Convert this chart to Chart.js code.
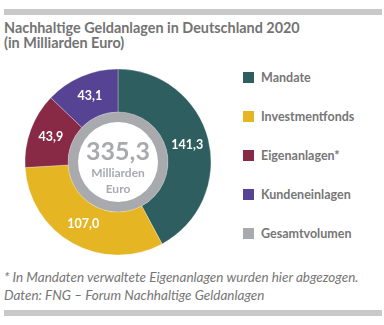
<!DOCTYPE html>
<html>
<head>
<meta charset="utf-8">
<script src="https://cdn.jsdelivr.net/npm/chart.js@4/dist/chart.umd.min.js"></script>
<style>
  body { margin: 0; background: #fff; font-family: Lato, sans-serif; color: #767676; }
  #wrap { position: relative; width: 384px; height: 325px; overflow: hidden; }
  .bar { position: absolute; left: 4px; width: 378px; height: 6px; background: #c9c9c9; }
  #title { position: absolute; left: 4px; top: 20px; font-size: 14.4px; font-weight: 700; line-height: 15px; color: #737373; }
  #chartBox { position: absolute; left: 18px; top: 62px; width: 200px; height: 200px; }
  #legend { position: absolute; left: 243px; top: 70px; }
  .item { position: absolute; left: 0; height: 14px; white-space: nowrap; font-size: 12.5px; font-weight: 700; color: #767676; }
  .item span.box { display: inline-block; width: 11px; height: 11px; vertical-align: -1px; margin-right: 7px; }
  #note { position: absolute; left: 4px; top: 268px; font-size: 13.5px; font-style: italic; line-height: 18px; color: #767676; }
</style>
</head>
<body>
<div id="wrap">
  <div class="bar" style="top:9px"></div>
  <div id="title">Nachhaltige Geldanlagen in Deutschland 2020<br>(in Milliarden Euro)</div>
  <div id="chartBox"><canvas id="myChart" width="200" height="200"></canvas></div>
  <div id="legend"></div>
  <div id="note">* In Mandaten verwaltete Eigenanlagen wurden hier abgezogen.<br>Daten: FNG – Forum Nachhaltige Geldanlagen</div>
  <div class="bar" style="top:310px"></div>
</div>
<script>
var categories = ['Mandate', 'Investmentfonds', 'Eigenanlagen*', 'Kundeneinlagen'];
var values = [141.3, 107.0, 43.9, 43.1];
var colors = ['#2f5e61', '#e6b524', '#882a45', '#574394'];
var totalLabel = 'Gesamtvolumen';
var totalValue = [335.3];
var totalColor = '#a9aaad';
var centerLines = ['Milliarden', 'Euro'];

function fmt(v) {
  return v.toFixed(1).replace('.', ',');
}

// legend built from the same arrays
var legendNames = categories.concat([totalLabel]);
var legendColors = colors.concat([totalColor]);
var legendEl = document.getElementById('legend');
legendNames.forEach(function(name, i) {
  var d = document.createElement('div');
  d.className = 'item';
  d.style.top = (i * 39) + 'px';
  d.innerHTML = '<span class="box" style="background:' + legendColors[i] + '"></span>' + name;
  legendEl.appendChild(d);
});

var labelPlugin = {
  id: 'labels',
  afterDatasetsDraw: function(chart) {
    var ctx = chart.ctx;
    var meta = chart.getDatasetMeta(0);
    ctx.save();
    ctx.fillStyle = '#fff';
    ctx.font = 'bold 12.5px Lato';
    ctx.textAlign = 'center';
    ctx.textBaseline = 'middle';
    meta.data.forEach(function(arc, i) {
      var p = arc.tooltipPosition();
      ctx.fillText(fmt(values[i]), p.x, p.y);
    });
    // center text
    var c = meta.data[0];
    ctx.fillStyle = totalColor;
    ctx.font = 'bold 25px Lato';
    ctx.fillText(fmt(totalValue[0]), c.x, c.y - 10);
    ctx.font = 'bold 12px Lato';
    ctx.fillText(centerLines[0], c.x, c.y + 11);
    ctx.fillText(centerLines[1], c.x, c.y + 27);
    ctx.restore();
  }
};

var ctx = document.getElementById('myChart').getContext('2d');
var newChart = new Chart(ctx, {
  type: 'doughnut',
  data: {
    labels: categories,
    datasets: [{
      data: values,
      backgroundColor: colors,
      borderColor: 'rgba(255,255,255,0.35)',
      borderWidth: 0.8,
      weight: 4.3
    }, {
      data: totalValue,
      backgroundColor: [totalColor],
      borderWidth: 0,
      weight: 1
    }]
  },
  options: {
    responsive: false,
    animation: false,
    radius: 93,
    cutout: '43%',
    plugins: {
      legend: { display: false },
      tooltip: { enabled: false }
    }
  },
  plugins: [labelPlugin]
});
</script>
</body>
</html>
